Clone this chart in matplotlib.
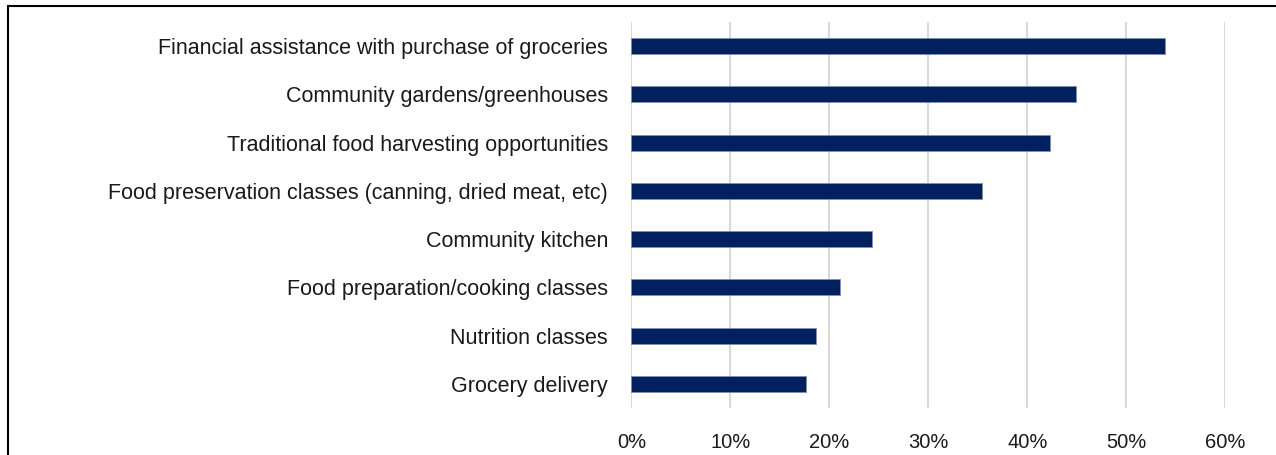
import matplotlib.pyplot as plt
from matplotlib.ticker import PercentFormatter
from matplotlib.patches import Rectangle

plt.rcParams['font.family'] = ['Liberation Sans', 'DejaVu Sans']

categories = [
    "Financial assistance with purchase of groceries",
    "Community gardens/greenhouses",
    "Traditional food harvesting opportunities",
    "Food preservation classes (canning, dried meat, etc)",
    "Community kitchen",
    "Food preparation/cooking classes",
    "Nutrition classes",
    "Grocery delivery",
]
values = [0.539, 0.449, 0.423, 0.354, 0.243, 0.211, 0.186, 0.176]
xticks = [0, 0.1, 0.2, 0.3, 0.4, 0.5, 0.6]

fig = plt.figure(figsize=(12.76, 4.55), dpi=100)
ax = fig.add_axes([0.4949, 0.1033, 0.4655, 0.8483])

ypos = range(len(categories))
ax.barh(ypos, values, height=0.33, color='#002060', edgecolor='#8090b0', linewidth=0.6, zorder=3)

ax.set_yticks(list(ypos))
ax.set_yticklabels(categories, fontsize=15.5, color='#1a1a1a')
ax.set_ylim(len(categories) - 0.5, -0.5)
ax.set_xlim(0, 0.6)
ax.set_xticks(xticks)
ax.xaxis.set_major_formatter(PercentFormatter(1.0, decimals=0))
ax.tick_params(axis='x', labelsize=14.5, labelcolor='#1a1a1a', length=0, pad=18)
ax.tick_params(axis='y', length=0, pad=17)
ax.grid(axis='x', color='#d9d9d9', linewidth=1.5, zorder=0)
for s in ax.spines.values():
    s.set_visible(False)

# outer border of the chart area
fig.patches.append(Rectangle((8 / 1276, -0.1), 1.2, 1 - 6 / 455 + 0.1,
                             transform=fig.transFigure, fill=False,
                             edgecolor='black', linewidth=1.5))

fig.savefig('out.png', dpi=100)
